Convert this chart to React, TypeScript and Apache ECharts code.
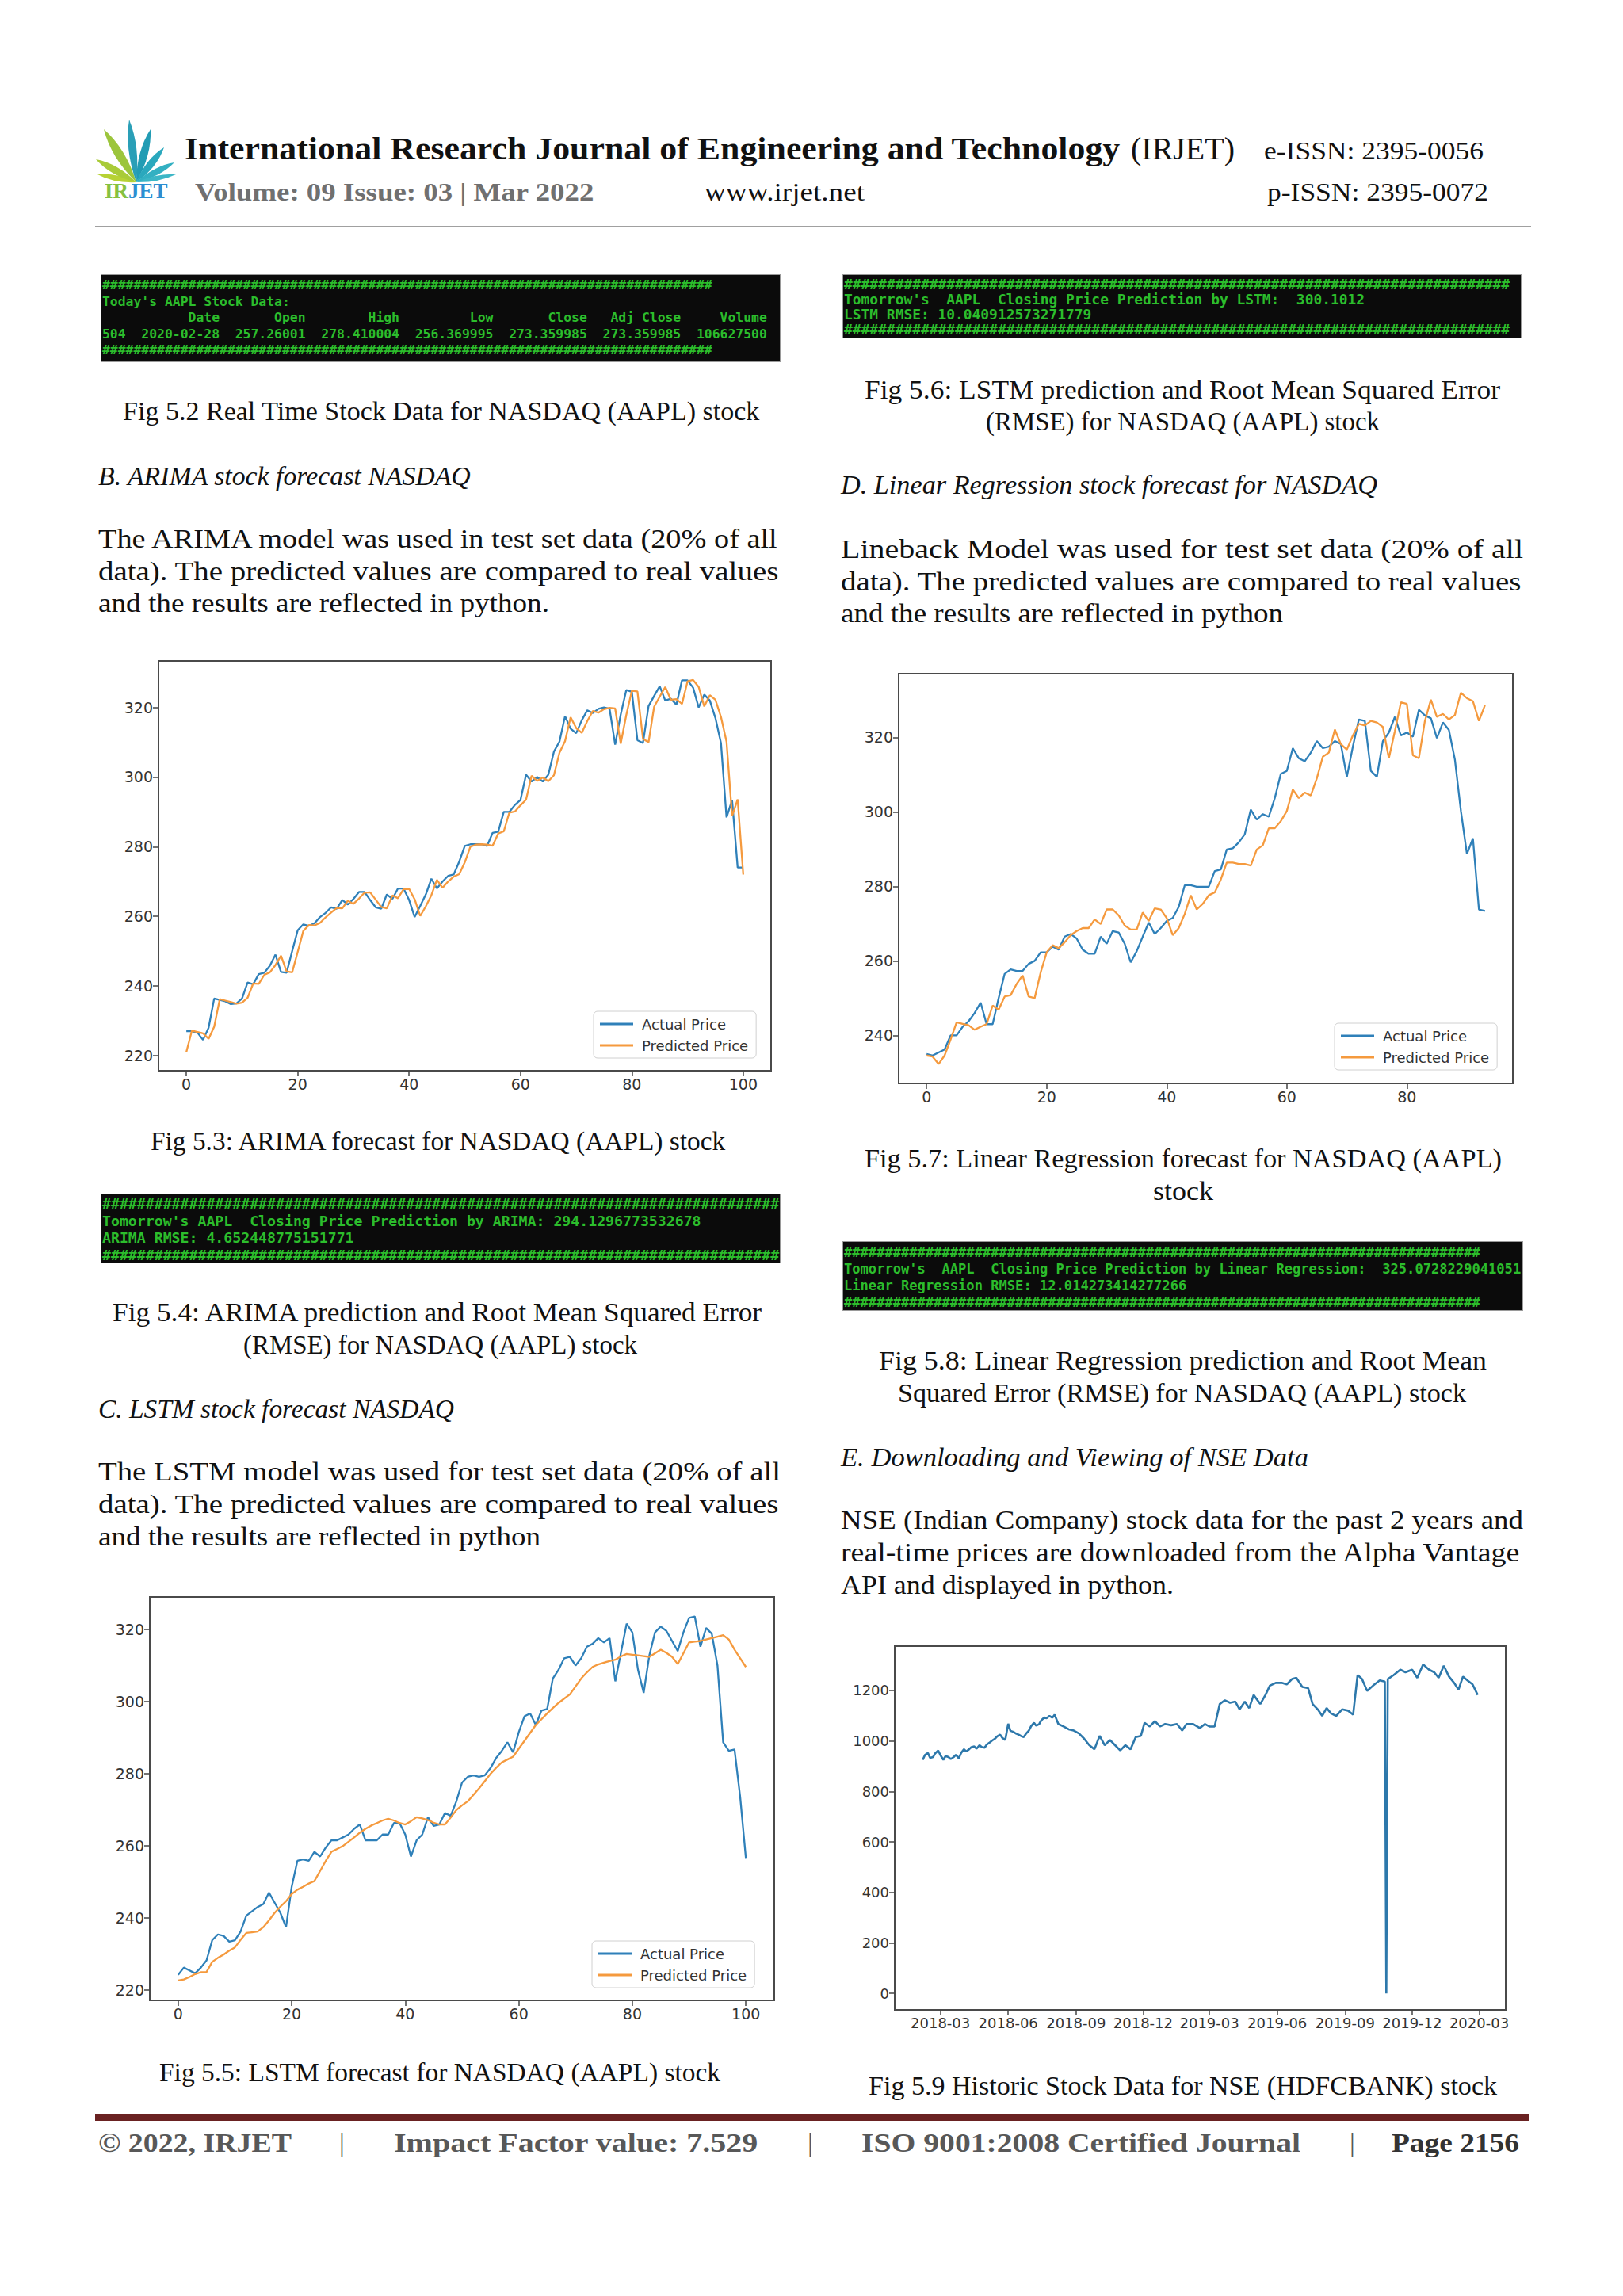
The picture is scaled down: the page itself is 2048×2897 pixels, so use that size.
import React, { useEffect, useRef } from "react";
import * as echarts from "echarts";

// ---------------- DATA ----------------
const arimaActual = [
  227, 227, 226.6, 224.5, 228, 236.4, 236, 235.6, 234.8, 235,
  236.4, 241, 240.5, 243.4, 243.8, 245.8, 249, 244, 243.8, 250,
  256, 257.7, 257.3, 258, 259.8, 261, 262.6, 262.2, 264.7, 263.4,
  265, 267, 267, 264.7, 262.6, 262.2, 266.3, 265, 268, 268,
  264.7, 259.8, 263, 266.3, 270.8, 268, 270, 271.6, 272, 275.7,
  280.2, 280.7, 280.7, 280.7, 280.2, 284, 284.3, 290, 290, 292,
  293.4, 300.7, 298.7, 300, 298.7, 300.7, 307.3, 310.2, 317.5, 313.9,
  312.6, 316.3, 319.2, 318.4, 319.6, 320, 319.6, 309.3, 318, 325,
  324.5, 310.6, 309.8, 320.4, 323.3, 326.1, 322, 322.5, 320.8, 327.8,
  327.8, 325.7, 320, 323.7, 322, 317, 309.8, 288.4, 293.4, 274,
  274,
];
const arimaPredicted = [
  221, 227.2, 226.8, 226.4, 224.8, 228.3, 236.2, 235.8, 235.4, 234.9,
  235.2, 236.6, 240.7, 240.6, 243.2, 243.9, 246, 248.7, 244.2, 243.9,
  249.8, 255.8, 257.5, 257.4, 258.1, 259.7, 261.1, 262.4, 262.3, 264.5,
  263.6, 265.1, 266.8, 266.9, 264.8, 262.7, 262.3, 266, 265.2, 267.8,
  267.9, 264.9, 260.1, 262.9, 266.1, 270.5, 268.2, 270, 271.4, 272.1,
  275.5, 280, 280.6, 280.7, 280.6, 280.3, 283.8, 284.4, 289.8, 290.1,
  291.9, 293.5, 300.4, 298.9, 299.9, 298.8, 300.5, 307, 310.3, 317.2,
  314.1, 312.7, 316.1, 319, 318.5, 319.5, 319.9, 319.7, 309.6, 317.8,
  324.8, 324.6, 311, 310, 320.2, 323.1, 325.9, 322.2, 322.4, 321,
  327.5, 327.9, 325.9, 320.3, 323.5, 322.2, 317.3, 310.2, 288.8, 293.6,
  272,
];

const lrActual = [
  235, 234.6, 235.4, 236.2, 240, 240, 242.3, 243.8, 246, 248.8,
  243, 243, 250, 256.5, 257.7, 257.3, 257.3, 259.2, 260, 262.3,
  262.3, 263.8, 263, 266.5, 267.2, 266, 263, 261.9, 261.9, 266.5,
  264.6, 268, 267.6, 264.6, 259.6, 262.6, 266.5, 270.3, 267.2, 268.8,
  270.7, 271.5, 274.5, 280.3, 280.3, 279.9, 279.9, 279.9, 284.1, 284.5,
  289.9, 290.2, 291.8, 294, 300.6, 297.9, 299.4, 298.7, 303.7, 310.2,
  311, 317.1, 314.4, 313.6, 315.9, 319, 317.1, 317.5, 319, 318.2,
  309.4, 317.5, 324.8, 324.4, 311, 309.4, 319, 321.3, 325.5, 320.5,
  321.3, 320.2, 327.4, 325.9, 325.1, 319.8, 324, 322, 314, 300.2,
  288.7, 292.9, 273.8, 273.4,
];
const lrPredicted = [
  234.6, 234.3, 232.3, 234.6, 238.9, 243.5, 243.1, 242.7, 241.5, 242.3,
  243, 248, 246.9, 250.4, 250.8, 253.8, 256.1, 250.4, 250, 256.9,
  262.3, 264.2, 263.4, 265, 266.9, 268, 268.8, 268.8, 271.1, 269.9,
  273.8, 273.8, 272.2, 269.5, 268.4, 268.4, 273, 270.7, 274.1, 273.8,
  271.5, 266.9, 268.8, 272.6, 277.6, 273.8, 275.3, 277.6, 278.4, 281.8,
  286.4, 286.4, 286, 286, 285.6, 289.9, 291, 295.6, 295.6, 297.5,
  300.2, 306, 303.7, 305.2, 304.4, 309, 314.8, 315.9, 322.1, 318.2,
  316.7, 320.5, 323.6, 323.2, 324.4, 324, 322.8, 314.4, 321.7, 329.4,
  329, 315.2, 314.4, 324.4, 330.1, 325.5, 326.3, 324.8, 326, 332,
  330.5, 329.7, 324.4, 328.6,
];

const lstmActual = [
  224.2, 226.2, 225.4, 224.6, 226.2, 228.2, 233.8, 235.4, 235, 233.4,
  233.8, 236.2, 240.6, 241.8, 243, 243.8, 247, 244.2, 241.4, 237.4,
  248.6, 255.8, 256.2, 255.8, 258.3, 257, 259.5, 261.5, 261.5, 262.3,
  263.1, 264.7, 265.9, 261.5, 261.5, 261.5, 263.1, 263.1, 266.3, 266.3,
  263.1, 257, 261.5, 263.1, 267.9, 265.5, 265.9, 269.1, 268.3, 272.3,
  277.5, 279.1, 279.5, 279.1, 279.5, 281.5, 284.3, 286.3, 288.7, 285.9,
  291.5, 295.9, 296.7, 293.5, 297.5, 297.9, 306.4, 308.8, 312, 312.4,
  310, 312, 315.2, 316, 317.6, 316.4, 317.6, 305.6, 313.6, 321.6,
  319.2, 308.8, 302.4, 312.8, 319.2, 320.8, 319.6, 316.8, 314, 319.2,
  323.2, 323.6, 315.2, 320.4, 318.8, 310, 288.7, 286.3, 286.7, 273.5,
  256.6,
];
const lstmPredicted = [
  222.6, 222.9, 223.6, 224.4, 224.9, 225, 227.8, 228.9, 229.8, 230.9,
  231.8, 233.9, 235.8, 236, 236.2, 237.4, 239.3, 241.4, 243.1, 244.6,
  246.6, 247.8, 248.6, 249.5, 250.2, 253, 255.8, 258.3, 259.1, 259.9,
  261.1, 262.3, 263.6, 264.7, 265.6, 266.3, 267, 267.5, 267, 266.3,
  265.9, 266.8, 267.9, 267.6, 267.1, 266.4, 265.9, 265.9, 267.8, 269.9,
  271.2, 272.3, 274.1, 275.9, 277.9, 279.9, 281.6, 283.1, 283.9, 284.7,
  286.9, 289.1, 291.3, 293.5, 295.1, 296.7, 298.2, 299.6, 300.8, 302,
  304.2, 306.4, 308.1, 309.6, 310.3, 310.8, 311.2, 311.6, 312.5, 313.2,
  313, 312.8, 312.6, 312.4, 313.4, 314.4, 313.5, 312.4, 310.4, 313.4,
  316.4, 316.6, 316.8, 317.2, 317.6, 318, 318.4, 317.2, 314.4, 312,
  309.6,
];

const nseDates = [
  "2018-02-05", "2018-02-08", "2018-02-12", "2018-02-15", "2018-02-19", "2018-02-22", "2018-02-26", "2018-03-01",
  "2018-03-05", "2018-03-08", "2018-03-12", "2018-03-15", "2018-03-19", "2018-03-22", "2018-03-26", "2018-03-29",
  "2018-04-02", "2018-04-05", "2018-04-09", "2018-04-12", "2018-04-16", "2018-04-19", "2018-04-23", "2018-04-26",
  "2018-04-30", "2018-05-03", "2018-05-07", "2018-05-10", "2018-05-14", "2018-05-17", "2018-05-21", "2018-05-24",
  "2018-05-28", "2018-06-01", "2018-06-04", "2018-06-08", "2018-06-11", "2018-06-15", "2018-06-18", "2018-06-22",
  "2018-06-25", "2018-06-29", "2018-07-02", "2018-07-06", "2018-07-09", "2018-07-13", "2018-07-16", "2018-07-20",
  "2018-07-23", "2018-07-27", "2018-07-31", "2018-08-03", "2018-08-08", "2018-08-15", "2018-08-22", "2018-08-29",
  "2018-09-05", "2018-09-12", "2018-09-19", "2018-09-26", "2018-10-03", "2018-10-10", "2018-10-17", "2018-10-24",
  "2018-10-31", "2018-11-07", "2018-11-14", "2018-11-21", "2018-11-28", "2018-12-03", "2018-12-10", "2018-12-17",
  "2018-12-24", "2018-12-31", "2019-01-08", "2019-01-16", "2019-01-23", "2019-01-29", "2019-02-07", "2019-02-16",
  "2019-02-23", "2019-03-01", "2019-03-08", "2019-03-15", "2019-03-22", "2019-03-29", "2019-04-05", "2019-04-11",
  "2019-04-18", "2019-04-24", "2019-04-30", "2019-05-09", "2019-05-16", "2019-05-22", "2019-05-30", "2019-06-07",
  "2019-06-14", "2019-06-21", "2019-06-27", "2019-07-05", "2019-07-13", "2019-07-19", "2019-07-26", "2019-08-01",
  "2019-08-07", "2019-08-13", "2019-08-20", "2019-08-28", "2019-09-05", "2019-09-12", "2019-09-18", "2019-09-24",
  "2019-10-01", "2019-10-09", "2019-10-18", "2019-10-25", "2019-10-27", "2019-10-29", "2019-11-06", "2019-11-15",
  "2019-11-22", "2019-12-01", "2019-12-08", "2019-12-16", "2019-12-24", "2019-12-31", "2020-01-06", "2020-01-13",
  "2020-01-20", "2020-01-27", "2020-02-02", "2020-02-08", "2020-02-14", "2020-02-21", "2020-02-28",
];
const nseClose = [
  925, 944, 952, 933, 936, 951, 962, 944,
  925, 940, 936, 928, 936, 945, 931, 952,
  967, 958, 967, 975, 978, 969, 983, 976,
  973, 986, 994, 1001, 1009, 1018, 1025, 1012,
  1004, 1068, 1040, 1036, 1030, 1025, 1020, 1015,
  1028, 1041, 1058, 1072, 1060, 1067, 1082, 1093,
  1090, 1099, 1092, 1104, 1067, 1057, 1046, 1041,
  1030, 1009, 983, 967, 1020, 983, 1004, 983,
  962, 983, 967, 1015, 1020, 1072, 1057, 1078,
  1057, 1067, 1062, 1067, 1041, 1067, 1067, 1051,
  1067, 1057, 1057, 1146, 1161, 1151, 1156, 1125,
  1156, 1130, 1182, 1146, 1182, 1219, 1230, 1230,
  1224, 1245, 1250, 1214, 1209, 1146, 1125, 1099,
  1130, 1109, 1099, 1125, 1120, 1104, 1261, 1245,
  1198, 1219, 1240, 1235, 0, 1245, 1261, 1282,
  1272, 1282, 1250, 1303, 1282, 1272, 1250, 1298,
  1255, 1230, 1203, 1255, 1240, 1224, 1182,
];

const indexTicks = [0, 20, 40, 60, 80, 100];
const lrIndexTicks = [0, 20, 40, 60, 80];
const priceTicksA = [220, 240, 260, 280, 300, 320];
const priceTicksLR = [240, 260, 280, 300, 320];
const nsePriceTicks = [0, 200, 400, 600, 800, 1000, 1200];
const nseDateTicks = ["2018-03-01", "2018-06-01", "2018-09-01", "2018-12-01", "2019-03-01", "2019-06-01", "2019-09-01", "2019-12-01", "2020-03-01"];

const legendNames = ["Actual Price", "Predicted Price"];

// ---------------- STYLES ----------------
const BLUE = "#2f80b9";
const ORANGE = "#f59a3e";
const SERIF = '"Liberation Serif", "DejaVu Serif", serif';
const MONO = '"DejaVu Sans Mono", "Liberation Mono", monospace';
const SANS = '"DejaVu Sans", sans-serif';
const HASH = "#".repeat(78);

const toTime = (s: string) => {
  const [y, m, d] = s.split("-").map(Number);
  return new Date(y, m - 1, d).getTime();
};

let _canvas: HTMLCanvasElement | null = null;
function natWidth(text: string, font: string) {
  if (!_canvas) _canvas = document.createElement("canvas");
  const ctx = _canvas.getContext("2d")!;
  ctx.font = font;
  return ctx.measureText(text).width || 1;
}

type TProps = {
  x: number; cy: number; w?: number; text: string; size?: number; weight?: number;
  italic?: boolean; color?: string; family?: string; familyCanvas?: string;
};
function T({ x, cy, w, text, size = 33, weight = 400, italic = false, color = "#111", family = SERIF, familyCanvas = '"Liberation Serif"' }: TProps) {
  const font = `${italic ? "italic " : ""}${weight} ${size}px ${familyCanvas}`;
  const sx = w ? w / natWidth(text, font) : 1;
  return (
    <div
      style={{
        position: "absolute", left: x, top: cy - size * 0.55, fontSize: size, lineHeight: `${size}px`,
        fontFamily: family, fontWeight: weight, fontStyle: italic ? "italic" : "normal", color,
        whiteSpace: "pre", transform: `scaleX(${sx})`, transformOrigin: "0 0",
      }}
    >
      {text}
    </div>
  );
}

function Code({ x, y, w, h, lines, size, lh, padTop }: { x: number; y: number; w: number; h: number; lines: string[]; size: number; lh: number; padTop: number }) {
  return (
    <div
      style={{
        position: "absolute", left: x, top: y, width: w, height: h, background: "#0b0b0b",
        border: "1px solid #9a9a9a", boxSizing: "border-box",
      }}
    >
      {lines.map((l, i) => (
        <div
          key={i}
          style={{
            position: "absolute", left: 1, top: padTop + i * lh, fontFamily: MONO, fontSize: size,
            lineHeight: `${lh}px`, color: "#2cbd2c", whiteSpace: "pre", fontWeight: 700,
          }}
        >
          {l}
        </div>
      ))}
    </div>
  );
}

function axisOpts(min: number, max: number, ticks: number[], fontSize: number, formatter?: (v: number) => string) {
  return {
    type: "value",
    min,
    max,
    axisLine: { show: false, onZero: false },
    axisTick: { show: true, customValues: ticks, length: 7, lineStyle: { color: "#444", width: 1.5 } },
    axisLabel: { customValues: ticks, fontSize, color: "#333", fontFamily: SANS, margin: 7, formatter: formatter || ((v: number) => String(v)) },
    splitLine: { show: false },
  };
}

function lineSeries(name: string, values: number[], color: string, z: number) {
  return {
    name,
    type: "line",
    data: values.map((v, i) => [i, v]),
    showSymbol: false,
    symbol: "none",
    lineStyle: { color, width: 2.3 },
    itemStyle: { color },
    z,
  };
}

function legendOpts(left: number, top: number) {
  return {
    data: legendNames,
    orient: "vertical",
    left,
    top,
    icon: "rect",
    itemWidth: 42,
    itemHeight: 3,
    itemGap: 9,
    padding: [7, 10, 7, 8],
    backgroundColor: "rgba(255,255,255,0.9)",
    borderColor: "#d0d0d0",
    borderWidth: 1,
    borderRadius: 5,
    textStyle: { fontSize: 18, color: "#333", fontFamily: SANS, padding: [0, 0, 0, 6] },
  };
}

type Box = { x: number; y: number; w: number; h: number };

function Chart({ box, option }: { box: Box; option: any }) {
  const ref = useRef<HTMLDivElement>(null);
  useEffect(() => {
    const c = echarts.init(ref.current!, null, { renderer: "svg" });
    c.setOption(option);
    return () => c.dispose();
  }, []);
  return <div ref={ref} style={{ position: "absolute", left: box.x, top: box.y, width: box.w, height: box.h }} />;
}

function gridOpts(left: number, top: number, width: number, height: number) {
  return { left, top, width, height, show: true, borderColor: "#4a4a4a", borderWidth: 2, backgroundColor: "#fff" };
}

const arimaOption = {
  animation: false,
  grid: gridOpts(80, 34, 773, 517),
  xAxis: axisOpts(-5, 105, indexTicks, 19),
  yAxis: axisOpts(215.65, 333.35, priceTicksA, 19),
  legend: legendOpts(629, 476),
  series: [lineSeries(legendNames[0], arimaActual, BLUE, 2), lineSeries(legendNames[1], arimaPredicted, ORANGE, 3)],
};

const lrOption = {
  animation: false,
  grid: gridOpts(74, 30, 775, 517),
  xAxis: axisOpts(-4.65, 97.65, lrIndexTicks, 19),
  yAxis: axisOpts(227.1, 337.1, priceTicksLR, 19),
  legend: legendOpts(624, 471),
  series: [lineSeries(legendNames[0], lrActual, BLUE, 2), lineSeries(legendNames[1], lrPredicted, ORANGE, 3)],
};

const lstmOption = {
  animation: false,
  grid: gridOpts(69, 25, 788, 509),
  xAxis: axisOpts(-5, 105, indexTicks, 19),
  yAxis: axisOpts(217.1, 329, priceTicksA, 19),
  legend: legendOpts(627, 459),
  series: [lineSeries(legendNames[0], lstmActual, BLUE, 2), lineSeries(legendNames[1], lstmPredicted, ORANGE, 3)],
};

const fmtMonth = (v: number) => {
  const d = new Date(v);
  return `${d.getFullYear()}-${String(d.getMonth() + 1).padStart(2, "0")}`;
};

const nseOption = {
  animation: false,
  grid: gridOpts(69, 37, 771, 459),
  xAxis: axisOpts(toTime("2017-12-29"), toTime("2020-04-06"), nseDateTicks.map(toTime), 18, fmtMonth),
  yAxis: axisOpts(-65.5, 1375.5, nsePriceTicks, 18),
  series: [
    {
      type: "line",
      data: nseDates.map((d, i) => [toTime(d), nseClose[i]]),
      showSymbol: false,
      symbol: "none",
      lineStyle: { color: "#2d78ab", width: 2.6 },
    },
  ],
};

// ---------------- LOGO ----------------
function leaf(bx: number, by: number, tx: number, ty: number, w: number) {
  const dx = tx - bx, dy = ty - by;
  const len = Math.hypot(dx, dy);
  const nx = -dy / len, ny = dx / len;
  const mx = bx + dx * 0.55, my = by + dy * 0.55;
  return `M${bx} ${by} Q${mx + nx * w} ${my + ny * w} ${tx} ${ty} Q${mx - nx * w} ${my - ny * w} ${bx} ${by} Z`;
}

function Logo() {
  const bx = 62, by = 90;
  const leaves: [number, number, number, string][] = [
    [13, 80, 7, "#b7d234"],
    [11, 61, 9, "#a9cb38"],
    [21, 23, 11, "#9cc53c"],
    [53, 11, 10, "#2a9fb7"],
    [80, 23, 10, "#229cb4"],
    [97, 46, 9, "#2aa8bd"],
    [110, 65, 8, "#33b0c2"],
    [112, 80, 6, "#3cb6c6"],
  ];
  return (
    <svg style={{ position: "absolute", left: 110, top: 140 }} width={130} height={130}>
      {leaves.map(([tx, ty, w, c], i) => (
        <path key={i} d={leaf(bx, by, tx, ty, w)} fill={c} />
      ))}
      <text x={22} y={110} fontFamily={SERIF} fontSize={27} fontWeight={700}>
        <tspan fill="#86c140">IR</tspan>
        <tspan fill="#2c8fd2">JET</tspan>
      </text>
    </svg>
  );
}

// ---------------- PAGE ----------------
export default function App() {
  const LX = 124, RX = 1061, CW = 861;
  return (
    <div style={{ position: "absolute", left: 0, top: 0, width: 2048, height: 2897, background: "#fff", overflow: "hidden" }}>
      <Logo />
      <T x={233} cy={190} w={1181} text="International Research Journal of Engineering and Technology" size={41} weight={700} />
      <T x={1427} cy={190} w={131} text="(IRJET)" size={41} />
      <T x={1595} cy={192} w={277} text="e-ISSN: 2395-0056" size={32} />
      <T x={246} cy={244} w={504} text="Volume: 09 Issue: 03 | Mar 2022" size={32} weight={700} color="#707070" />
      <T x={889} cy={244} w={202} text="www.irjet.net" size={32} />
      <T x={1599} cy={244} w={279} text="p-ISSN: 2395-0072" size={32} />
      <div style={{ position: "absolute", left: 120, top: 285, width: 1812, height: 2, background: "#a0a0a0" }} />

      {/* Left column */}
      <Code x={127} y={346} w={858} h={111} size={16.4} lh={20.6} padTop={3}
        lines={[
          HASH,
          "Today's AAPL Stock Data:",
          "           Date       Open        High         Low       Close   Adj Close     Volume",
          "504  2020-02-28  257.26001  278.410004  256.369995  273.359985  273.359985  106627500",
          HASH,
        ]}
      />
      <T x={155} cy={521} w={804} text="Fig 5.2 Real Time Stock Data for NASDAQ (AAPL) stock" />
      <T x={LX} cy={603} w={471} text="B. ARIMA stock forecast NASDAQ" italic />
      <T x={LX} cy={682} w={CW} text="The ARIMA model was used in test set data (20% of all" />
      <T x={LX} cy={723} w={CW - 2} text="data). The predicted values are compared to real values" />
      <T x={LX} cy={763} w={569} text="and the results are reflected in python." />
      <Chart box={{ x: 120, y: 800, w: 880, h: 600 }} option={arimaOption} />
      <T x={190} cy={1442} w={729} text="Fig 5.3: ARIMA forecast for NASDAQ (AAPL) stock" />
      <Code x={127} y={1506} w={858} h={88} size={18.2} lh={21.6} padTop={1}
        lines={[
          HASH,
          "Tomorrow's AAPL  Closing Price Prediction by ARIMA: 294.1296773532678",
          "ARIMA RMSE: 4.652448775151771",
          HASH,
        ]}
      />
      <T x={142} cy={1658} w={823} text="Fig 5.4: ARIMA prediction and Root Mean Squared Error" />
      <T x={307} cy={1699} w={497} text="(RMSE) for NASDAQ (AAPL) stock" />
      <T x={LX} cy={1780} w={449} text="C. LSTM stock forecast NASDAQ" italic />
      <T x={LX} cy={1859} w={CW} text="The LSTM model was used for test set data (20% of all" />
      <T x={LX} cy={1900} w={CW - 2} text="data). The predicted values are compared to real values" />
      <T x={LX} cy={1941} w={558} text="and the results are reflected in python" />
      <Chart box={{ x: 120, y: 1990, w: 880, h: 600 }} option={lstmOption} />
      <T x={201} cy={2617} w={708} text="Fig 5.5: LSTM forecast for NASDAQ (AAPL) stock" />

      {/* Right column */}
      <Code x={1063} y={346} w={857} h={81} size={17.9} lh={19} padTop={2}
        lines={[
          HASH,
          "Tomorrow's  AAPL  Closing Price Prediction by LSTM:  300.1012",
          "LSTM RMSE: 10.040912573271779",
          HASH,
        ]}
      />
      <T x={1091} cy={494} w={802} text="Fig 5.6: LSTM prediction and Root Mean Squared Error" />
      <T x={1244} cy={534} w={497} text="(RMSE) for NASDAQ (AAPL) stock" />
      <T x={RX} cy={614} w={677} text="D. Linear Regression stock forecast for NASDAQ" italic />
      <T x={RX} cy={695} w={CW} text="Lineback Model was used for test set data (20% of all" />
      <T x={RX} cy={736} w={CW - 2} text="data). The predicted values are compared to real values" />
      <T x={RX} cy={776} w={558} text="and the results are reflected in python" />
      <Chart box={{ x: 1060, y: 820, w: 880, h: 600 }} option={lrOption} />
      <T x={1091} cy={1464} w={804} text="Fig 5.7: Linear Regression forecast for NASDAQ (AAPL)" />
      <T x={1455} cy={1505} w={76} text="stock" />
      <Code x={1063} y={1566} w={859} h={88} size={17.1} lh={21} padTop={3}
        lines={[
          HASH,
          "Tomorrow's  AAPL  Closing Price Prediction by Linear Regression:  325.0728229041051",
          "Linear Regression RMSE: 12.014273414277266",
          HASH,
        ]}
      />
      <T x={1109} cy={1719} w={767} text="Fig 5.8: Linear Regression prediction and Root Mean" />
      <T x={1133} cy={1760} w={717} text="Squared Error (RMSE) for NASDAQ (AAPL) stock" />
      <T x={RX} cy={1841} w={590} text="E. Downloading and Viewing of NSE Data" italic />
      <T x={RX} cy={1920} w={CW} text="NSE (Indian Company) stock data for the past 2 years and" />
      <T x={RX} cy={1961} w={CW - 2} text="real-time prices are downloaded from the Alpha Vantage" />
      <T x={RX} cy={2002} w={420} text="API and displayed in python." />
      <Chart box={{ x: 1060, y: 2040, w: 880, h: 560 }} option={nseOption} />
      <T x={1096} cy={2634} w={793} text="Fig 5.9 Historic Stock Data for NSE (HDFCBANK) stock" />

      {/* Footer */}
      <div style={{ position: "absolute", left: 120, top: 2667, width: 1810, height: 9, background: "#6a2222" }} />
      <T x={124} cy={2706} w={244} text="© 2022, IRJET" size={34} weight={700} color="#585858" />
      <T x={428} cy={2706} text="|" size={34} color="#585858" />
      <T x={497} cy={2706} w={460} text="Impact Factor value: 7.529" size={34} weight={700} color="#585858" />
      <T x={1019} cy={2706} text="|" size={34} color="#585858" />
      <T x={1087} cy={2706} w={554} text="ISO 9001:2008 Certified Journal" size={34} weight={700} color="#585858" />
      <T x={1703} cy={2706} text="|" size={34} color="#585858" />
      <T x={1756} cy={2706} w={161} text="Page 2156" size={34} weight={700} color="#333" />
    </div>
  );
}
